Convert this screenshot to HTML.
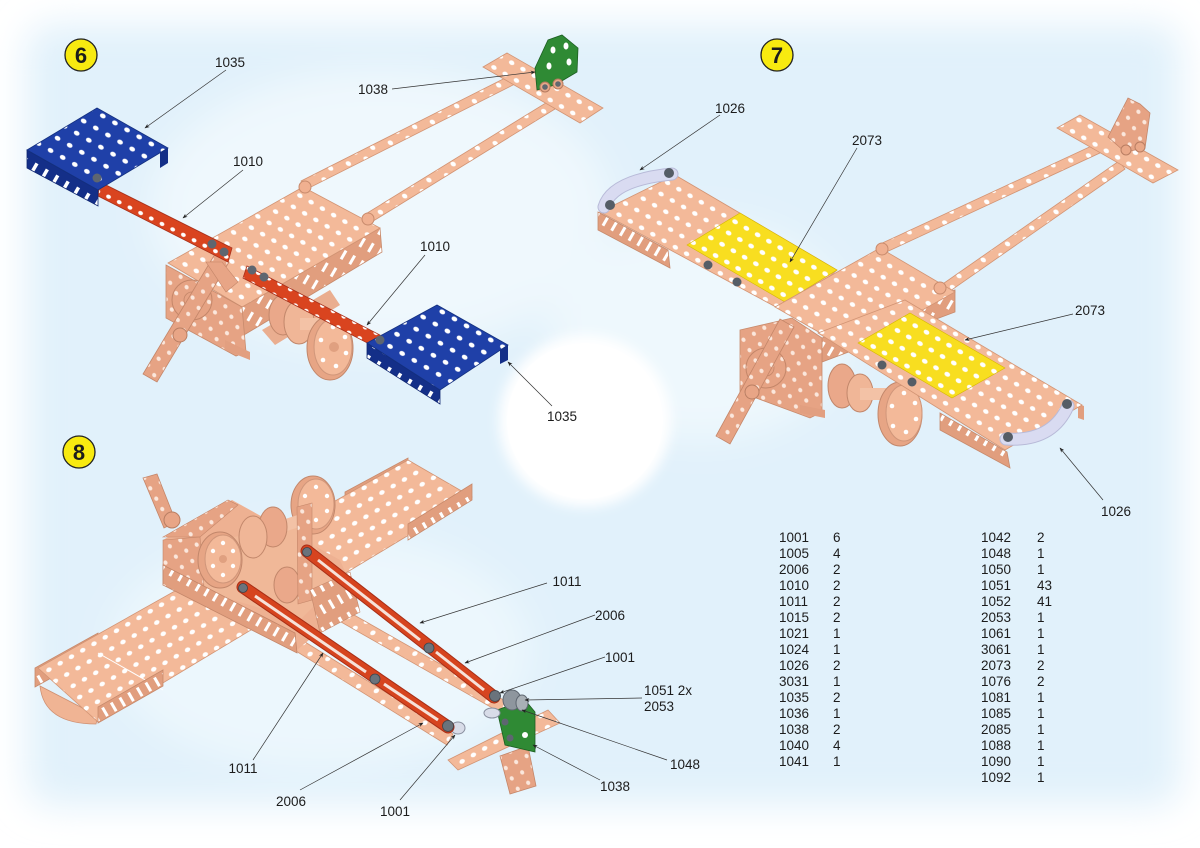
<!DOCTYPE html>
<html><head><meta charset="utf-8">
<style>
html,body{margin:0;padding:0;background:#fff;}
svg{display:block;}
text{font-family:"Liberation Sans",Arial,sans-serif;fill:#1c1c1c;}
</style></head>
<body>
<svg width="1200" height="848" viewBox="0 0 1200 848" xmlns="http://www.w3.org/2000/svg">
<defs>
  <filter id="blur" x="-20%" y="-20%" width="140%" height="140%"><feGaussianBlur stdDeviation="18"/></filter>
  <filter id="blur2" x="-20%" y="-20%" width="140%" height="140%"><feGaussianBlur stdDeviation="6"/></filter>
  <pattern id="hp" width="13" height="13" patternUnits="userSpaceOnUse" patternTransform="rotate(30)">
    <rect width="13" height="13" fill="#f3b999"/><ellipse cx="6.5" cy="6.5" rx="2.9" ry="2.2" fill="#fff"/></pattern>
  <pattern id="hpn" width="13" height="13" patternUnits="userSpaceOnUse" patternTransform="rotate(-30)">
    <rect width="13" height="13" fill="#f3b999"/><ellipse cx="6.5" cy="6.5" rx="2.9" ry="2.2" fill="#fff"/></pattern>
  <pattern id="hs" width="12" height="12" patternUnits="userSpaceOnUse" patternTransform="rotate(60)">
    <rect width="12" height="12" fill="#e6a384"/><ellipse cx="6" cy="6" rx="2.3" ry="2" fill="#fbe7dc"/></pattern>
  <pattern id="hb" width="14" height="14" patternUnits="userSpaceOnUse" patternTransform="rotate(30)">
    <rect width="14" height="14" fill="#1f40a8"/><ellipse cx="7" cy="7" rx="3" ry="2.3" fill="#fff"/></pattern>
  <pattern id="hy" width="13" height="13" patternUnits="userSpaceOnUse" patternTransform="rotate(30)">
    <rect width="13" height="13" fill="#f8de20"/><ellipse cx="6.5" cy="6.5" rx="3" ry="2.3" fill="#fff"/></pattern>
  <pattern id="hr" width="12" height="12" patternUnits="userSpaceOnUse" patternTransform="rotate(27)">
    <rect width="12" height="12" fill="#d9441f"/><ellipse cx="6" cy="6" rx="2.5" ry="2" fill="#fff"/></pattern>
  <pattern id="slot" width="10" height="20" patternUnits="userSpaceOnUse" patternTransform="rotate(30)">
    <rect width="10" height="20" fill="#e19e7e"/><rect x="3.5" y="4" width="3" height="10" fill="#fff"/></pattern>
  <pattern id="slotn" width="10" height="20" patternUnits="userSpaceOnUse" patternTransform="rotate(-30)">
    <rect width="10" height="20" fill="#e19e7e"/><rect x="3.5" y="4" width="3" height="10" fill="#fff"/></pattern>
  <pattern id="slotb" width="12" height="20" patternUnits="userSpaceOnUse" patternTransform="rotate(30)">
    <rect width="12" height="20" fill="#142f88"/><rect x="4" y="3" width="3.5" height="12" fill="#fff"/></pattern>
  <marker id="ar" viewBox="0 0 10 10" refX="9" refY="5" markerWidth="7" markerHeight="7" orient="auto-start-reverse">
    <path d="M0,1 L10,5 L0,9 L3,5 z" fill="#222"/></marker>
</defs>

<!-- background -->
<rect width="1200" height="848" fill="#fff"/>
<g filter="url(#blur)">
  <rect x="26" y="24" width="1155" height="782" rx="26" fill="#e1f1fb"/>
  <ellipse cx="380" cy="210" rx="230" ry="140" fill="#eff8fd"/>
  <ellipse cx="700" cy="330" rx="150" ry="110" fill="#eef8fd"/>
  <ellipse cx="320" cy="650" rx="210" ry="120" fill="#ecf7fd"/>
</g>
<circle cx="585" cy="421" r="86" fill="#fff" filter="url(#blur2)"/>
<circle cx="585" cy="421" r="78" fill="#fff"/>

<!-- ================= FIG 6 ================= -->
<circle cx="81" cy="55" r="16" fill="#f8ea10" stroke="#222" stroke-width="1.3"/>
<text x="81" y="63" font-size="22" font-weight="bold" text-anchor="middle">6</text>

<!-- long strips -->
<polygon points="301,181 513,74 517,83 305,190" fill="url(#hp)" stroke="#d29474" stroke-width="0.8"/>
<polygon points="364,215 549,101 555,109 370,223" fill="url(#hp)" stroke="#d29474" stroke-width="0.8"/>
<!-- tail crossbar -->
<polygon points="483,67 507,53 603,108 580,123" fill="url(#hp)" stroke="#d29474" stroke-width="0.8"/>
<!-- green bracket -->
<polygon points="535,68 548,40 562,35 578,48 577,72 555,85 537,90" fill="#2f8a34" stroke="#1d5e22" stroke-width="0.8"/>
<ellipse cx="553" cy="50" rx="2.5" ry="3.5" fill="#fff"/><ellipse cx="566" cy="46" rx="2.5" ry="3.5" fill="#fff"/>
<ellipse cx="549" cy="66" rx="2.5" ry="3.5" fill="#fff"/><ellipse cx="569" cy="62" rx="2.5" ry="3.5" fill="#fff"/>
<circle cx="545" cy="87" r="5" fill="#e8a888" stroke="#b57a5f"/><circle cx="545" cy="87" r="2.8" fill="#606870"/>
<circle cx="558" cy="84" r="5" fill="#e8a888" stroke="#b57a5f"/><circle cx="558" cy="84" r="2.8" fill="#606870"/>

<!-- body side and wheels -->
<polygon points="242,307 380,228 382,252 244,335" fill="url(#slot)" stroke="#c78a6c" stroke-width="0.8"/>
<polygon points="262,330 330,290 340,305 275,345" fill="#eaae90"/>
<ellipse cx="283" cy="315" rx="14" ry="20" fill="#eaa88a" stroke="#c2876b"/>
<ellipse cx="299" cy="322" rx="15" ry="22" fill="#f0b697" stroke="#c2876b"/>
<rect x="300" y="318" width="24" height="12" fill="#f3c2a6"/>
<ellipse cx="330" cy="348" rx="23" ry="32" fill="#e7a585" stroke="#c2876b"/>
<ellipse cx="333" cy="347" rx="19" ry="28" fill="#f3b999" stroke="#d0967a"/>
<g fill="#fff"><circle cx="333" cy="327" r="2.3"/><circle cx="345" cy="337" r="2.3"/><circle cx="346" cy="353" r="2.3"/><circle cx="336" cy="366" r="2.3"/><circle cx="323" cy="360" r="2.3"/><circle cx="321" cy="340" r="2.3"/></g>
<circle cx="334" cy="347" r="5" fill="#e0a080"/>

<!-- body top plate -->
<polygon points="168,263 303,187 380,228 242,307" fill="url(#hp)" stroke="#d29474" stroke-width="0.8"/>
<circle cx="305" cy="187" r="6" fill="#f0b090" stroke="#c88b6d"/><circle cx="368" cy="219" r="6" fill="#f0b090" stroke="#c88b6d"/>
<!-- front face -->
<polygon points="166,265 242,307 246,352 236,356 166,318" fill="url(#hs)" stroke="#c88b6d" stroke-width="0.8"/>
<polygon points="225,340 250,352 250,360 225,350" fill="#e29f80"/>
<circle cx="192" cy="300" r="20" fill="none" stroke="#c48669" stroke-width="1"/>
<circle cx="192" cy="300" r="8" fill="none" stroke="#c48669" stroke-width="0.8"/>
<!-- propeller -->
<polygon points="229,262 157,382 143,374 215,254" fill="url(#hs)" stroke="#c48669" stroke-width="0.8"/>
<polygon points="206,262 222,262 238,282 226,292" fill="#e8a586" stroke="#c48669" stroke-width="0.6"/>
<circle cx="180" cy="335" r="7" fill="#e8a586" stroke="#b97e63"/>

<!-- red strip 1 -->
<polygon points="100,182 232,248 228,262 98,196" fill="url(#hr)" stroke="#a8301a" stroke-width="0.8"/>
<circle cx="212" cy="244" r="4.5" fill="#5e6670"/><circle cx="224" cy="252" r="4.5" fill="#5e6670"/>
<!-- blue plate 1 -->
<polygon points="27,150 98,190 98,206 27,168" fill="url(#slotb)" stroke="#0f2670" stroke-width="0.8"/>
<polygon points="160,152 168,148 168,163 160,168" fill="#142f88"/>
<polygon points="27,150 97,108 168,148 98,190" fill="url(#hb)" stroke="#14307f" stroke-width="0.8"/>
<circle cx="97" cy="178" r="4.5" fill="#5e6670"/>

<!-- red strip 2 -->
<polygon points="247,266 380,335 375,347 243,278" fill="url(#hr)" stroke="#a8301a" stroke-width="0.8"/>
<circle cx="252" cy="270" r="4.5" fill="#5e6670"/><circle cx="264" cy="277" r="4.5" fill="#5e6670"/>
<!-- blue plate 2 -->
<polygon points="367,343 440,390 440,404 367,358" fill="url(#slotb)" stroke="#0f2670" stroke-width="0.8"/>
<polygon points="500,349 508,345 508,360 500,364" fill="#142f88"/>
<polygon points="367,343 437,305 508,345 440,390" fill="url(#hb)" stroke="#14307f" stroke-width="0.8"/>
<circle cx="380" cy="340" r="4.5" fill="#5e6670"/>

<!-- fig6 labels -->
<g stroke="#333" stroke-width="0.7" fill="none" marker-end="url(#ar)">
  <line x1="226" y1="70" x2="145" y2="128"/>
  <line x1="243" y1="170" x2="183" y2="218"/>
  <line x1="392" y1="89" x2="535" y2="72"/>
  <line x1="425" y1="255" x2="367" y2="325"/>
  <line x1="552" y1="406" x2="508" y2="362"/>
</g>
<g font-size="13.5" text-anchor="middle">
  <text x="230" y="67">1035</text>
  <text x="248" y="166">1010</text>
  <text x="373" y="94">1038</text>
  <text x="435" y="251">1010</text>
  <text x="562" y="421">1035</text>
</g>

<!-- ================= FIG 7 ================= -->
<circle cx="777" cy="55" r="16" fill="#f8ea10" stroke="#222" stroke-width="1.3"/>
<text x="777" y="63" font-size="22" font-weight="bold" text-anchor="middle">7</text>

<!-- strips to tail -->
<polygon points="878,245 1098,143 1102,152 882,254" fill="url(#hp)" stroke="#d29474" stroke-width="0.8"/>
<polygon points="937,288 1119,161 1125,169 943,296" fill="url(#hp)" stroke="#d29474" stroke-width="0.8"/>
<polygon points="1057,128 1080,115 1178,170 1153,183" fill="url(#hp)" stroke="#d29474" stroke-width="0.8"/>
<polygon points="1108,137 1128,98 1140,104 1150,113 1145,148 1125,152" fill="url(#hs)" stroke="#c48669" stroke-width="0.8"/>
<circle cx="1126" cy="150" r="5" fill="#eaa888" stroke="#b97e63"/><circle cx="1140" cy="147" r="5" fill="#eaa888" stroke="#b97e63"/>

<!-- body side + wheels -->
<polygon points="822,338 955,290 955,312 822,362" fill="url(#slot)" stroke="#c78a6c" stroke-width="0.8"/>
<ellipse cx="842" cy="386" rx="14" ry="22" fill="#eaa88a" stroke="#c2876b"/>
<ellipse cx="860" cy="393" rx="13" ry="19" fill="#f0b697" stroke="#c2876b"/>
<rect x="860" y="388" width="26" height="12" fill="#f3c2a6"/>
<ellipse cx="900" cy="414" rx="22" ry="32" fill="#e7a585" stroke="#c2876b"/>
<ellipse cx="904" cy="413" rx="18" ry="28" fill="#f3b999" stroke="#d0967a"/>
<g fill="#fff"><circle cx="904" cy="393" r="2.3"/><circle cx="915" cy="403" r="2.3"/><circle cx="916" cy="419" r="2.3"/><circle cx="906" cy="432" r="2.3"/><circle cx="893" cy="426" r="2.3"/><circle cx="892" cy="406" r="2.3"/></g>

<!-- box front -->
<polygon points="740,330 792,318 822,338 822,412 810,418 740,392" fill="url(#hs)" stroke="#c88b6d" stroke-width="0.8"/>
<polygon points="800,405 825,410 825,418 800,413" fill="#e29f80"/>
<circle cx="766" cy="368" r="20" fill="none" stroke="#c48669" stroke-width="1"/>
<circle cx="766" cy="368" r="8" fill="none" stroke="#c48669" stroke-width="0.8"/>

<!-- left wing -->
<polygon points="598,212 668,250 670,268 598,230" fill="url(#slot)" stroke="#c78a6c" stroke-width="0.8"/>
<polygon points="600,212 675,175 837,270 787,313" fill="url(#hp)" stroke="#d29474" stroke-width="0.8"/>
<polygon points="687,245 740,213 837,270 785,302" fill="url(#hy)" stroke="#d6b800" stroke-width="0.6"/>
<path d="M604,207 Q612,180 672,174" stroke="#b8bad8" stroke-width="13" fill="none" stroke-linecap="round"/>
<path d="M604,207 Q612,180 672,174" stroke="#d9dbf1" stroke-width="11" fill="none" stroke-linecap="round"/>
<circle cx="610" cy="205" r="5" fill="#555d66"/><circle cx="669" cy="173" r="5" fill="#555d66"/>
<circle cx="708" cy="265" r="4.5" fill="#555d66"/><circle cx="737" cy="282" r="4.5" fill="#555d66"/>

<!-- body top plate -->
<polygon points="775,307 880,248 955,292 850,350" fill="url(#hp)" stroke="#d29474" stroke-width="0.8"/>
<circle cx="882" cy="249" r="6" fill="#f0b090" stroke="#c88b6d"/><circle cx="940" cy="288" r="6" fill="#f0b090" stroke="#c88b6d"/>

<!-- propeller -->
<polygon points="794,327 730,444 716,436 780,319" fill="url(#hs)" stroke="#c48669" stroke-width="0.8"/>
<circle cx="752" cy="392" r="7" fill="#e8a586" stroke="#b97e63"/>

<!-- right wing -->
<polygon points="940,413 1007,452 1010,468 940,430" fill="url(#slot)" stroke="#c78a6c" stroke-width="0.8"/>
<polygon points="1078,404 1084,406 1084,420 1078,418" fill="#e19e7e"/>
<polygon points="818,333 905,300 1082,405 1005,450" fill="url(#hp)" stroke="#d29474" stroke-width="0.8"/>
<polygon points="858,343 910,313 1005,368 952,398" fill="url(#hy)" stroke="#d6b800" stroke-width="0.6"/>
<path d="M1006,439 Q1052,442 1068,406" stroke="#b8bad8" stroke-width="13" fill="none" stroke-linecap="round"/>
<path d="M1006,439 Q1052,442 1068,406" stroke="#d9dbf1" stroke-width="11" fill="none" stroke-linecap="round"/>
<circle cx="1008" cy="437" r="5" fill="#555d66"/><circle cx="1067" cy="404" r="5" fill="#555d66"/>
<circle cx="882" cy="365" r="4.5" fill="#555d66"/><circle cx="912" cy="382" r="4.5" fill="#555d66"/>

<!-- fig7 labels -->
<g stroke="#333" stroke-width="0.7" fill="none" marker-end="url(#ar)">
  <line x1="720" y1="115" x2="640" y2="170"/>
  <line x1="857" y1="148" x2="790" y2="262"/>
  <line x1="1073" y1="314" x2="965" y2="340"/>
  <line x1="1103" y1="500" x2="1060" y2="448"/>
</g>
<g font-size="13.5" text-anchor="middle">
  <text x="730" y="113">1026</text>
  <text x="867" y="145">2073</text>
  <text x="1090" y="315">2073</text>
  <text x="1116" y="516">1026</text>
</g>

<!-- ================= FIG 8 ================= -->
<circle cx="79" cy="452" r="16" fill="#f8ea10" stroke="#222" stroke-width="1.3"/>
<text x="79" y="460" font-size="22" font-weight="bold" text-anchor="middle">8</text>

<!-- semicircle -->
<path d="M40,686 Q44,724 96,724 L98,716 Z" fill="#f0b494" stroke="#cf9072" stroke-width="0.8"/>
<!-- back flanges -->
<polygon points="35,687 98,652 98,633 35,668" fill="url(#slotn)" stroke="#c78a6c" stroke-width="0.8"/>
<polygon points="345,508 408,475 408,458 345,492" fill="url(#slotn)" stroke="#c78a6c" stroke-width="0.8"/>
<!-- wing -->
<polygon points="38,668 408,460 472,497 98,722" fill="url(#hpn)" stroke="#d29474" stroke-width="0.8"/>
<line x1="98" y1="653" x2="163" y2="690" stroke="#fff" stroke-width="1"/>
<!-- front flanges -->
<polygon points="98,723 163,686 163,670 98,707" fill="url(#slotn)" stroke="#c78a6c" stroke-width="0.8"/>
<polygon points="408,540 472,500 472,484 408,524" fill="url(#slotn)" stroke="#c78a6c" stroke-width="0.8"/>

<!-- tail booms -->
<polygon points="347,611 523,711 517,722 341,622" fill="url(#hpn)" stroke="#d29474" stroke-width="0.8"/>
<polygon points="297,637 453,734 447,745 291,648" fill="url(#hpn)" stroke="#d29474" stroke-width="0.8"/>
<!-- tail -->
<polygon points="500,756 528,746 536,786 510,794" fill="url(#hs)" stroke="#c48669" stroke-width="0.8"/>
<polygon points="448,760 458,770 560,723 548,710" fill="url(#hpn)" stroke="#d29474" stroke-width="0.8"/>
<polygon points="497,710 525,700 535,712 535,752 505,745" fill="#2f8a34" stroke="#1d5e22" stroke-width="0.8"/>
<circle cx="505" cy="722" r="3.5" fill="#5e6670"/><circle cx="510" cy="738" r="3.5" fill="#5e6670"/><circle cx="525" cy="735" r="3" fill="#fff"/>
<ellipse cx="512" cy="700" rx="9" ry="10" fill="#8e969e" stroke="#5e6670"/>
<ellipse cx="522" cy="703" rx="6" ry="8" fill="#a9b0b6" stroke="#5e6670"/>
<ellipse cx="492" cy="713" rx="8" ry="5" fill="#d8dce8" stroke="#8a90a0"/>
<ellipse cx="458" cy="728" rx="7" ry="6" fill="#d8dce8" stroke="#8a90a0"/>

<!-- fuselage -->
<polygon points="163,540 232,500 340,560 357,600 297,650 163,585" fill="#eeb192"/>
<polygon points="190,545 300,525 340,580 300,620 200,590" fill="#f0b898"/>
<polygon points="163,537 228,500 238,505 200,537" fill="url(#hs)" stroke="#c48669" stroke-width="0.6"/>
<polygon points="163,540 200,537 205,600 163,585" fill="url(#hs)" stroke="#c48669" stroke-width="0.6"/>
<polygon points="143,478 157,474 176,522 164,528" fill="url(#hs)" stroke="#c48669" stroke-width="0.8"/>
<circle cx="172" cy="520" r="8" fill="#e8a586" stroke="#b97e63"/>
<!-- pulleys/wheels -->
<ellipse cx="313" cy="505" rx="22" ry="29" fill="#e7a585" stroke="#c2876b"/>
<ellipse cx="316" cy="504" rx="18" ry="25" fill="#f3b999" stroke="#d0967a"/>
<g fill="#fff"><circle cx="316" cy="487" r="2.2"/><circle cx="327" cy="496" r="2.2"/><circle cx="327" cy="511" r="2.2"/><circle cx="316" cy="520" r="2.2"/><circle cx="305" cy="511" r="2.2"/><circle cx="305" cy="496" r="2.2"/></g>
<rect x="258" y="520" width="50" height="12" fill="#f3c2a6" transform="rotate(-18 283 526)"/>
<ellipse cx="273" cy="527" rx="14" ry="20" fill="#eaa88a" stroke="#c2876b"/>
<ellipse cx="253" cy="537" rx="14" ry="21" fill="#f0b697" stroke="#c2876b"/>
<ellipse cx="287" cy="585" rx="13" ry="18" fill="#eaa88a" stroke="#c2876b"/>
<polygon points="297,507 312,503 312,600 298,604" fill="url(#hs)" stroke="#c48669" stroke-width="0.6"/>
<polygon points="310,590 350,572 360,612 320,633" fill="url(#slotn)" stroke="#c48669" stroke-width="0.6"/>
<ellipse cx="220" cy="560" rx="22" ry="28" fill="#e7a585" stroke="#c2876b"/>
<ellipse cx="223" cy="559" rx="18" ry="24" fill="#f3b999" stroke="#d0967a"/>
<g fill="#fff"><circle cx="223" cy="543" r="2.2"/><circle cx="233" cy="551" r="2.2"/><circle cx="233" cy="566" r="2.2"/><circle cx="223" cy="575" r="2.2"/><circle cx="213" cy="566" r="2.2"/><circle cx="213" cy="551" r="2.2"/></g>
<circle cx="223" cy="559" r="4" fill="#e0a080"/>
<polygon points="163,565 295,633 297,653 163,585" fill="url(#slot)" stroke="#c48669" stroke-width="0.8"/>

<!-- red slotted strips -->
<line x1="307" y1="551" x2="494" y2="697" stroke="#a82e16" stroke-width="13" stroke-linecap="round"/>
<line x1="307" y1="551" x2="494" y2="697" stroke="#d6441f" stroke-width="11" stroke-linecap="round"/>
<line x1="318" y1="560" x2="420" y2="640" stroke="#f6e2da" stroke-width="3"/>
<line x1="436" y1="652" x2="484" y2="690" stroke="#f6e2da" stroke-width="3"/>
<line x1="243" y1="587" x2="448" y2="727" stroke="#a82e16" stroke-width="13" stroke-linecap="round"/>
<line x1="243" y1="587" x2="448" y2="727" stroke="#d6441f" stroke-width="11" stroke-linecap="round"/>
<line x1="255" y1="596" x2="366" y2="672" stroke="#f6e2da" stroke-width="3"/>
<line x1="384" y1="684" x2="438" y2="720" stroke="#f6e2da" stroke-width="3"/>
<g fill="#6a737c" stroke="#3e454c" stroke-width="0.8">
  <circle cx="307" cy="552" r="4.5"/><circle cx="429" cy="648" r="5"/><circle cx="495" cy="696" r="5.5"/>
  <circle cx="243" cy="588" r="4.5"/><circle cx="375" cy="679" r="5"/><circle cx="448" cy="726" r="5.5"/>
</g>

<!-- fig8 labels -->
<g stroke="#333" stroke-width="0.7" fill="none" marker-end="url(#ar)">
  <line x1="547" y1="583" x2="420" y2="623"/>
  <line x1="595" y1="615" x2="465" y2="663"/>
  <line x1="605" y1="657" x2="500" y2="693"/>
  <line x1="642" y1="698" x2="525" y2="700"/>
  <line x1="667" y1="760" x2="522" y2="710"/>
  <line x1="600" y1="780" x2="533" y2="745"/>
  <line x1="253" y1="760" x2="323" y2="653"/>
  <line x1="300" y1="790" x2="423" y2="723"/>
  <line x1="400" y1="800" x2="455" y2="735"/>
</g>
<g font-size="13.5" text-anchor="middle">
  <text x="567" y="586">1011</text>
  <text x="610" y="620">2006</text>
  <text x="620" y="662">1001</text>
  <text x="685" y="769">1048</text>
  <text x="615" y="791">1038</text>
  <text x="243" y="773">1011</text>
  <text x="291" y="806">2006</text>
  <text x="395" y="816">1001</text>
</g>
<g font-size="13.5">
  <text x="644" y="695">1051 2x</text>
  <text x="644" y="711">2053</text>
</g>

<!-- parts table -->
<g font-size="13.5">
  <text x="779" y="542">1001</text><text x="833" y="542">6</text>
  <text x="779" y="558">1005</text><text x="833" y="558">4</text>
  <text x="779" y="574">2006</text><text x="833" y="574">2</text>
  <text x="779" y="590">1010</text><text x="833" y="590">2</text>
  <text x="779" y="606">1011</text><text x="833" y="606">2</text>
  <text x="779" y="622">1015</text><text x="833" y="622">2</text>
  <text x="779" y="638">1021</text><text x="833" y="638">1</text>
  <text x="779" y="654">1024</text><text x="833" y="654">1</text>
  <text x="779" y="670">1026</text><text x="833" y="670">2</text>
  <text x="779" y="686">3031</text><text x="833" y="686">1</text>
  <text x="779" y="702">1035</text><text x="833" y="702">2</text>
  <text x="779" y="718">1036</text><text x="833" y="718">1</text>
  <text x="779" y="734">1038</text><text x="833" y="734">2</text>
  <text x="779" y="750">1040</text><text x="833" y="750">4</text>
  <text x="779" y="766">1041</text><text x="833" y="766">1</text>

  <text x="981" y="542">1042</text><text x="1037" y="542">2</text>
  <text x="981" y="558">1048</text><text x="1037" y="558">1</text>
  <text x="981" y="574">1050</text><text x="1037" y="574">1</text>
  <text x="981" y="590">1051</text><text x="1037" y="590">43</text>
  <text x="981" y="606">1052</text><text x="1037" y="606">41</text>
  <text x="981" y="622">2053</text><text x="1037" y="622">1</text>
  <text x="981" y="638">1061</text><text x="1037" y="638">1</text>
  <text x="981" y="654">3061</text><text x="1037" y="654">1</text>
  <text x="981" y="670">2073</text><text x="1037" y="670">2</text>
  <text x="981" y="686">1076</text><text x="1037" y="686">2</text>
  <text x="981" y="702">1081</text><text x="1037" y="702">1</text>
  <text x="981" y="718">1085</text><text x="1037" y="718">1</text>
  <text x="981" y="734">2085</text><text x="1037" y="734">1</text>
  <text x="981" y="750">1088</text><text x="1037" y="750">1</text>
  <text x="981" y="766">1090</text><text x="1037" y="766">1</text>
  <text x="981" y="782">1092</text><text x="1037" y="782">1</text>
</g>
</svg>
</body></html>
